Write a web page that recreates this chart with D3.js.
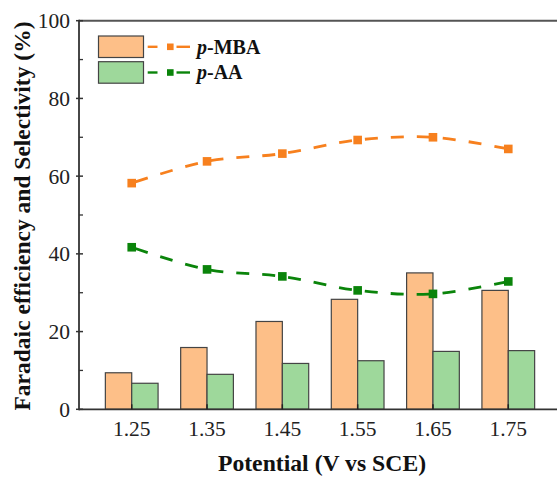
<!DOCTYPE html>
<html>
<head>
<meta charset="utf-8">
<script src="https://cdn.jsdelivr.net/npm/d3@7"></script>
<style>
  html, body { margin: 0; padding: 0; background: #fff; }
  text { font-family: "Liberation Serif", "Times New Roman", Times, "DejaVu Serif", serif; }
</style>
</head>
<body>
<svg id="chart" width="557" height="477"></svg>
<script>
const potentials = [1.25, 1.35, 1.45, 1.55, 1.65, 1.75];
const mbaFE = [9.4, 15.9, 22.6, 28.3, 35.1, 30.6];
const aaFE = [6.7, 9.0, 11.8, 12.5, 14.9, 15.1];
const mbaSel = [58.2, 63.8, 65.8, 69.3, 70.0, 67.0];
const aaSel = [41.7, 36.0, 34.2, 30.6, 29.7, 32.9];
const yTicks = [0, 20, 40, 60, 80, 100];
const yMinor = [10, 30, 50, 70, 90];
const seriesNames = ["p-MBA", "p-AA"];

const FONT = "'Liberation Serif', 'Times New Roman', Times, 'DejaVu Serif', serif";
const colors = {
  mbaBar: "#FDBF88", aaBar: "#9ED89B",
  mbaLine: "#F7801E", aaLine: "#0A840A",
  stroke: "#444"
};

const svg = d3.select("#chart").attr("font-family", FONT);
const margin = { left: 79, right: 561, top: 20.7, bottom: 409.3 };
const x = d3.scaleLinear().domain([1.18, 1.82]).range([margin.left, margin.right]);
const y = d3.scaleLinear().domain([0, 100]).range([margin.bottom, margin.top]);
const halfW = 0.035;

// Bars
const g = svg.append("g");
g.selectAll(".barM").data(potentials).enter().append("rect")
  .attr("x", d => x(d - halfW)).attr("width", d => x(d) - x(d - halfW))
  .attr("y", (d, i) => y(mbaFE[i])).attr("height", (d, i) => y(0) - y(mbaFE[i]))
  .attr("fill", colors.mbaBar).attr("stroke", colors.stroke).attr("stroke-width", 1.2);
g.selectAll(".barA").data(potentials).enter().append("rect")
  .attr("x", d => x(d)).attr("width", d => x(d + halfW) - x(d))
  .attr("y", (d, i) => y(aaFE[i])).attr("height", (d, i) => y(0) - y(aaFE[i]))
  .attr("fill", colors.aaBar).attr("stroke", colors.stroke).attr("stroke-width", 1.2);

// Lines
const line = d3.line().x(d => x(d[0])).y(d => y(d[1])).curve(d3.curveCatmullRom.alpha(0.5));
function drawSeries(vals, col) {
  const pts = potentials.map((p, i) => [p, vals[i]]);
  svg.append("path").datum(pts).attr("d", line)
    .attr("fill", "none").attr("stroke", col).attr("stroke-width", 2.8)
    .attr("stroke-dasharray", "13,13").attr("stroke-dashoffset", -4);
  svg.selectAll(null).data(pts).enter().append("rect")
    .attr("x", d => x(d[0]) - 4.3).attr("y", d => y(d[1]) - 4.3)
    .attr("width", 8.6).attr("height", 8.6).attr("fill", col);
}
drawSeries(mbaSel, colors.mbaLine);
drawSeries(aaSel, colors.aaLine);

// Axes frame
svg.append("line").attr("x1", margin.left).attr("x2", 570).attr("y1", y(100)).attr("y2", y(100))
  .attr("stroke", "#555").attr("stroke-width", 2);
svg.append("line").attr("x1", margin.left).attr("x2", 570).attr("y1", y(0)).attr("y2", y(0))
  .attr("stroke", "#333").attr("stroke-width", 1.8);
svg.append("line").attr("x1", margin.left).attr("x2", margin.left).attr("y1", y(0) + 0.9).attr("y2", y(100) - 1)
  .attr("stroke", "#333").attr("stroke-width", 1.8);

// Y ticks
svg.selectAll(".yt").data(yTicks).enter().append("line")
  .attr("x1", margin.left - 3).attr("x2", margin.left + 4)
  .attr("y1", d => y(d)).attr("y2", d => y(d)).attr("stroke", "#333").attr("stroke-width", 1.5);
svg.selectAll(".ym").data(yMinor).enter().append("line")
  .attr("x1", margin.left).attr("x2", margin.left + 4)
  .attr("y1", d => y(d)).attr("y2", d => y(d)).attr("stroke", "#333").attr("stroke-width", 1.3);
svg.selectAll(".yl").data(yTicks).enter().append("text")
  .attr("x", 70).attr("y", d => y(d)).attr("dy", "0.35em").attr("font-family", FONT)
  .attr("text-anchor", "end").attr("font-size", 21.5).attr("fill", "#222").text(d => d);

// X ticks
svg.selectAll(".xt").data(potentials).enter().append("line")
  .attr("x1", d => x(d)).attr("x2", d => x(d)).attr("y1", y(0)).attr("y2", y(0) - 5)
  .attr("stroke", "#222").attr("stroke-width", 1.5);
svg.selectAll(".xl").data(potentials).enter().append("text")
  .attr("x", d => x(d)).attr("y", 436).attr("font-family", FONT)
  .attr("text-anchor", "middle").attr("font-size", 21.5).attr("fill", "#222").text(d => d.toFixed(2));

// Axis titles
svg.append("text").attr("x", (margin.left + 557) / 2 + 4).attr("y", 471).attr("font-family", FONT)
  .attr("text-anchor", "middle").attr("font-size", 23.7).attr("font-weight", "bold").attr("fill", "#111")
  .text("Potential (V vs SCE)");
svg.append("text").attr("transform", "translate(30,216) rotate(-90)").attr("font-family", FONT)
  .attr("text-anchor", "middle").attr("font-size", 23.5).attr("font-weight", "bold").attr("fill", "#111")
  .text("Faradaic efficiency and Selectivity (%)");

// Legend
const legend = [
  { name: seriesNames[0], bar: colors.mbaBar, line: colors.mbaLine, y: 36 },
  { name: seriesNames[1], bar: colors.aaBar, line: colors.aaLine, y: 61.7 }
];
legend.forEach(l => {
  svg.append("rect").attr("x", 98.5).attr("y", l.y).attr("width", 45).attr("height", 21.5)
    .attr("fill", l.bar).attr("stroke", colors.stroke).attr("stroke-width", 1.2);
  const cy = l.y + 10.8;
  svg.append("line").attr("x1", 147.7).attr("x2", 157.5).attr("y1", cy).attr("y2", cy)
    .attr("stroke", l.line).attr("stroke-width", 2.4);
  svg.append("line").attr("x1", 176.5).attr("x2", 190).attr("y1", cy).attr("y2", cy)
    .attr("stroke", l.line).attr("stroke-width", 2.4);
  svg.append("rect").attr("x", 167).attr("y", cy - 3.3).attr("width", 6.6).attr("height", 6.6).attr("fill", l.line);
  const t = svg.append("text").attr("x", 197).attr("y", cy + 6.8).attr("font-family", FONT)
    .attr("font-size", 20).attr("font-weight", "bold").attr("fill", "#111");
  const parts = l.name.split("-");
  t.append("tspan").attr("font-style", "italic").text(parts[0]);
  t.append("tspan").text("-" + parts[1]);
});
</script>
</body>
</html>
